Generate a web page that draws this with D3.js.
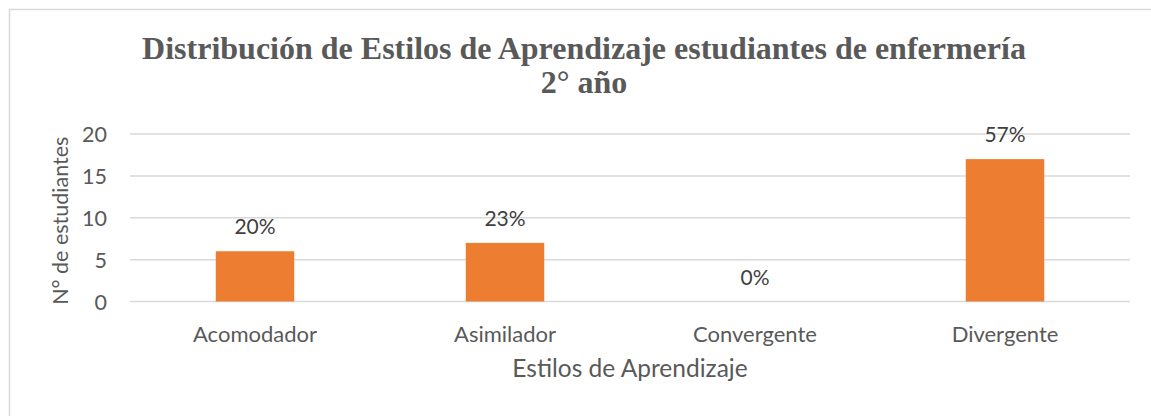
<!DOCTYPE html>
<html><head><meta charset="utf-8">
<script src="https://cdn.jsdelivr.net/npm/d3@7/dist/d3.min.js"></script>
<style>
html,body{margin:0;padding:0;background:#fff;}
svg{display:block;}
</style></head>
<body>
<script>
const categories = ["Acomodador", "Asimilador", "Convergente", "Divergente"];
const values = [6, 7, 0, 17];
const valueLabels = ["20%", "23%", "0%", "57%"];
const yTicks = [0, 5, 10, 15, 20];
const titleLines = ["Distribución de Estilos de Aprendizaje estudiantes de enfermería", "2° año"];
const xTitle = "Estilos de Aprendizaje";
const yTitle = "N° de estudiantes";

const W = 1151, H = 416;
const plot = {left: 130, right: 1130, top: 134, bottom: 301.5};
const textColor = "#595959";
const gridColor = "#d9d9d9";
const barColor = "#ed7d31";
const sansFont = "Lato, 'Open Sans', sans-serif";

const svg = d3.select("body").append("svg").attr("width", W).attr("height", H);

// chart border
svg.append("rect").attr("x", 9.5).attr("y", 9.5).attr("width", W + 20).attr("height", H + 20)
  .attr("fill", "#fff").attr("stroke", gridColor).attr("stroke-width", 1.5);

const x = d3.scaleBand().domain(categories).range([plot.left, plot.right]).paddingInner(0.686).paddingOuter(0.343);
const y = d3.scaleLinear().domain([0, 20]).range([plot.bottom, plot.top]);

// gridlines
svg.append("g").selectAll("line").data(yTicks).join("line")
  .attr("x1", plot.left).attr("x2", plot.right)
  .attr("y1", d => y(d)).attr("y2", d => y(d))
  .attr("stroke", gridColor).attr("stroke-width", 1.5);

// y axis labels
const yAxis = d3.axisLeft(y).tickValues(yTicks).tickSize(0).tickPadding(0);
const gy = svg.append("g").attr("transform", `translate(${plot.left - 23},0)`).call(yAxis);
gy.select(".domain").remove();
gy.selectAll("text").attr("fill", textColor).style("font-family", sansFont).style("font-size", "21.5px").attr("dy", "0.35em");

// x axis labels
const xAxis = d3.axisBottom(x).tickSize(0).tickPadding(0);
const gx = svg.append("g").attr("transform", `translate(0,${plot.bottom})`).call(xAxis);
gx.select(".domain").remove();
gx.selectAll("text").attr("fill", textColor).style("font-family", sansFont).style("font-size", "22px")
  .attr("dy", null).attr("y", 40.5);

// bars
svg.append("g").selectAll("rect").data(values).join("rect")
  .attr("x", (d, i) => x(categories[i]))
  .attr("width", x.bandwidth())
  .attr("y", d => y(d))
  .attr("height", d => y(0) - y(d))
  .attr("fill", barColor);

// data labels
svg.append("g").selectAll("text").data(values).join("text")
  .attr("x", (d, i) => x(categories[i]) + x.bandwidth() / 2)
  .attr("y", d => y(d) - 17)
  .attr("text-anchor", "middle")
  .attr("fill", "#404040")
  .style("font-family", sansFont).style("font-size", "21px")
  .text((d, i) => valueLabels[i]);

// title
svg.append("g").selectAll("text").data(titleLines).join("text")
  .attr("x", 584).attr("y", (d, i) => 59 + i * 34)
  .attr("text-anchor", "middle")
  .attr("fill", textColor)
  .style("font-family", "'Liberation Serif', 'Times New Roman', serif")
  .style("font-weight", "bold").style("font-size", "32px")
  .text(d => d);

// axis titles
svg.append("text").attr("x", (plot.left + plot.right) / 2).attr("y", 377)
  .attr("text-anchor", "middle").attr("fill", textColor)
  .style("font-family", sansFont).style("font-size", "24.5px").text(xTitle);

svg.append("text")
  .attr("transform", `translate(68,${(plot.top + plot.bottom) / 2 + 3}) rotate(-90)`)
  .attr("text-anchor", "middle").attr("fill", textColor)
  .style("font-family", sansFont).style("font-size", "21.5px").text(yTitle);
</script>
</body></html>
